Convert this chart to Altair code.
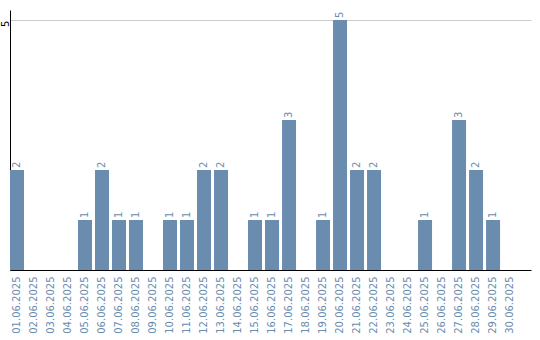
import altair as alt
import pandas as pd

dates = [f"{d:02d}.06.2025" for d in range(1, 31)]
counts = [2, 0, 0, 0, 1, 2, 1, 1, 0, 1,
          1, 2, 2, 0, 1, 1, 3, 0, 1, 5,
          2, 2, 0, 0, 1, 0, 3, 2, 1, 0]

df = pd.DataFrame({"date": dates, "count": counts})
BAR = "#6a8caf"
FONT = "DejaVu Sans"

x = alt.X("date:O", sort=dates, title=None,
          scale=alt.Scale(domain=dates, paddingInner=3 / 17, paddingOuter=0.41, align=0),
          axis=alt.Axis(labelAngle=-90, labelColor=BAR, labelFont=FONT, labelFontSize=10,
                        ticks=False, domainColor="#000", labelPadding=6))
y = alt.Y("count:Q", title=None,
          scale=alt.Scale(domain=[0, 5.2], nice=False),
          axis=alt.Axis(values=[5], labelAngle=-90, ticks=False, domainColor="#000",
                        gridColor="#cccccc", labelFont=FONT, labelFontSize=10,
                        labelColor="#000", labelPadding=2, labelAlign="right",
                        labelBaseline="alphabetic"))

base = alt.Chart(df).transform_filter("datum.count > 0")
bars = base.mark_bar(color=BAR).encode(x=x, y=y)
labels = base.mark_text(angle=270, align="left", baseline="middle", dx=2,
                        color=BAR, font=FONT, fontSize=10).encode(
    x=alt.X("date:O", sort=dates), y="count:Q", text="count:Q")

chart = (bars + labels).properties(
    width=521, height=260,
    autosize=alt.AutoSizeParams(type="none"),
    padding={"left": 10, "top": 10, "right": 9, "bottom": 70},
).configure_view(stroke=None)

chart.save("out.html", embed_options={"renderer": "svg", "actions": False})
